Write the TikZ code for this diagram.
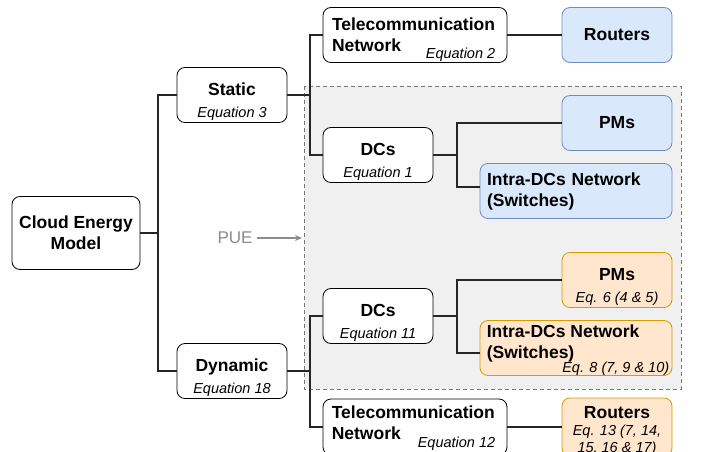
\documentclass[tikz,border=0pt]{standalone}
\usepackage{fontspec}
\setmainfont{Liberation Sans}
\usepackage{tikz}
\usetikzlibrary{arrows.meta}

\definecolor{blueFill}{HTML}{DAE8FC}
\definecolor{blueLine}{HTML}{6C8EBF}
\definecolor{orangeFill}{HTML}{FFE6CC}
\definecolor{orangeLine}{HTML}{D79B00}
\definecolor{areaFill}{HTML}{F0F0F0}
\definecolor{areaLine}{HTML}{777777}
\definecolor{pueGray}{HTML}{8C8C8C}

\newcommand{\titlefont}{\fontsize{17.5}{21}\selectfont\bfseries}
\newcommand{\eqfont}{\normalfont\fontsize{14.5}{17}\selectfont\itshape}

\tikzset{
  box/.style={draw=black,fill=white,rounded corners=8pt,line width=0.8pt,
              align=center,inner sep=0pt,font=\titlefont},
  bluebox/.style={box,draw=blueLine,fill=blueFill},
  orangebox/.style={box,draw=orangeLine,fill=orangeFill},
  twoline/.style={text height=45pt,text depth=1pt},
  label/.style={inner sep=0pt,font=\titlefont},
  eqlabel/.style={inner sep=0pt,font=\eqfont},
  link/.style={draw=black!85,line width=1.3pt}
}

\begin{document}
\begin{tikzpicture}[x=1pt,y=-1pt]
            \useasboundingbox (0,0) rectangle (701,452);
            \path [draw=areaLine,fill=areaFill,line width=1pt,dash pattern=on 4pt off 3pt]
                (304,86) rectangle (681,389);

            \begin{scope}[every node/.style={box,minimum width=110pt,minimum height=55pt}]
                \node (cloud) at (76,233) [minimum width=128pt,minimum height=73pt] {Cloud Energy\\Model};
                \node (static) at (232,95) [twoline] {Static\\[1pt]{\eqfont Equation 3}};
                \node (dynamic) at (232,371) [twoline] {Dynamic\\[1pt]{\eqfont Equation 18}};
                \node (dc1) at (378,155) [twoline] {DCs\\[1pt]{\eqfont Equation 1}};
                \node (dc2) at (378,316) [twoline] {DCs\\[1pt]{\eqfont Equation 11}};
                \node (tel1) at (415,35) [align=left,text width=166pt,inner xsep=9pt] {Telecommunication\\Network};
                \node (tel2) at (415,427) [minimum width=184pt,minimum height=56pt] {};
                \node (rout1) at (617,35) [bluebox] {Routers};
                \node (pm1) at (617,123) [bluebox] {PMs};
                \node (intra1) at (576,191) [bluebox,align=left,text width=178pt,inner xsep=7pt] {Intra-DCs Network\\(Switches)};
                \node (pm2) at (617,280) [orangebox,twoline] {PMs\\[1pt]{\eqfont Eq. 6 (4 \& 5)}};
                \node (intra2) at (576,348) [orangebox,minimum width=192pt] {};
                \node (rout2) at (617,427) [orangebox,minimum height=58pt] {};
            \end{scope}

            \node (tel1eq) [eqlabel,anchor=base east] at ([xshift=-12pt,yshift=4pt]tel1.south east) {Equation 2};
            \node (tel2txt) [label,align=left,anchor=north west] at ([xshift=9pt,yshift=-7pt]tel2.north west) {Telecommunication\\Network};
            \node (tel2eq) [eqlabel,anchor=base east] at ([xshift=-12pt,yshift=8pt]tel2.south east) {Equation 12};
            \node (intra2txt) [label,align=left,anchor=north west] at ([xshift=7pt,yshift=-5pt]intra2.north west) {Intra-DCs Network\\(Switches)};
            \node (intra2eq) [eqlabel,anchor=base east] at ([xshift=-3pt,yshift=3pt]intra2.south east) {Eq. 8 (7, 9 \& 10)};
            \node (rout2txt) [label,align=center,anchor=north] at ([yshift=-9pt]rout2.north) {Routers\\[-4pt]{\eqfont Eq. 13 (7, 14,}\\[-4pt]{\eqfont 15, 16 \& 17)}};
            \node (pue) [label,font=\fontsize{17}{20}\selectfont,text=pueGray,inner sep=4pt] at (235,238) {PUE};
            \coordinate (pueend) at (302,238);

            \coordinate (j1) at (158,233);
            \coordinate (j2) at (310,95);
            \coordinate (j3) at (310,371);
            \coordinate (j4) at (457,155);
            \coordinate (j5) at (457,316);

            \begin{scope}[every path/.style={link}]
                \path (cloud) -- (j1);
                \path (j1) |- (static);
                \path (j1) |- (dynamic);
                \path (static) -- (j2);
                \path (j2) |- (tel1);
                \path (j2) |- (dc1);
                \path (dynamic) -- (j3);
                \path (j3) |- (dc2);
                \path (j3) |- (tel2);
                \path (dc1) -- (j4);
                \path (j4) |- (pm1);
                \path (j4) |- ([yshift=4pt]intra1.west);
                \path (dc2) -- (j5);
                \path (j5) |- (pm2);
                \path (j5) |- ([yshift=-5pt]intra2.west);
                \path (tel1) -- (rout1);
                \path (tel2) -- (rout2);
            \end{scope}

            \draw [pueGray,line width=1.2pt,-{Stealth[length=7pt,width=6pt]}] (pue) -- (pueend);
\end{tikzpicture}
\end{document}
